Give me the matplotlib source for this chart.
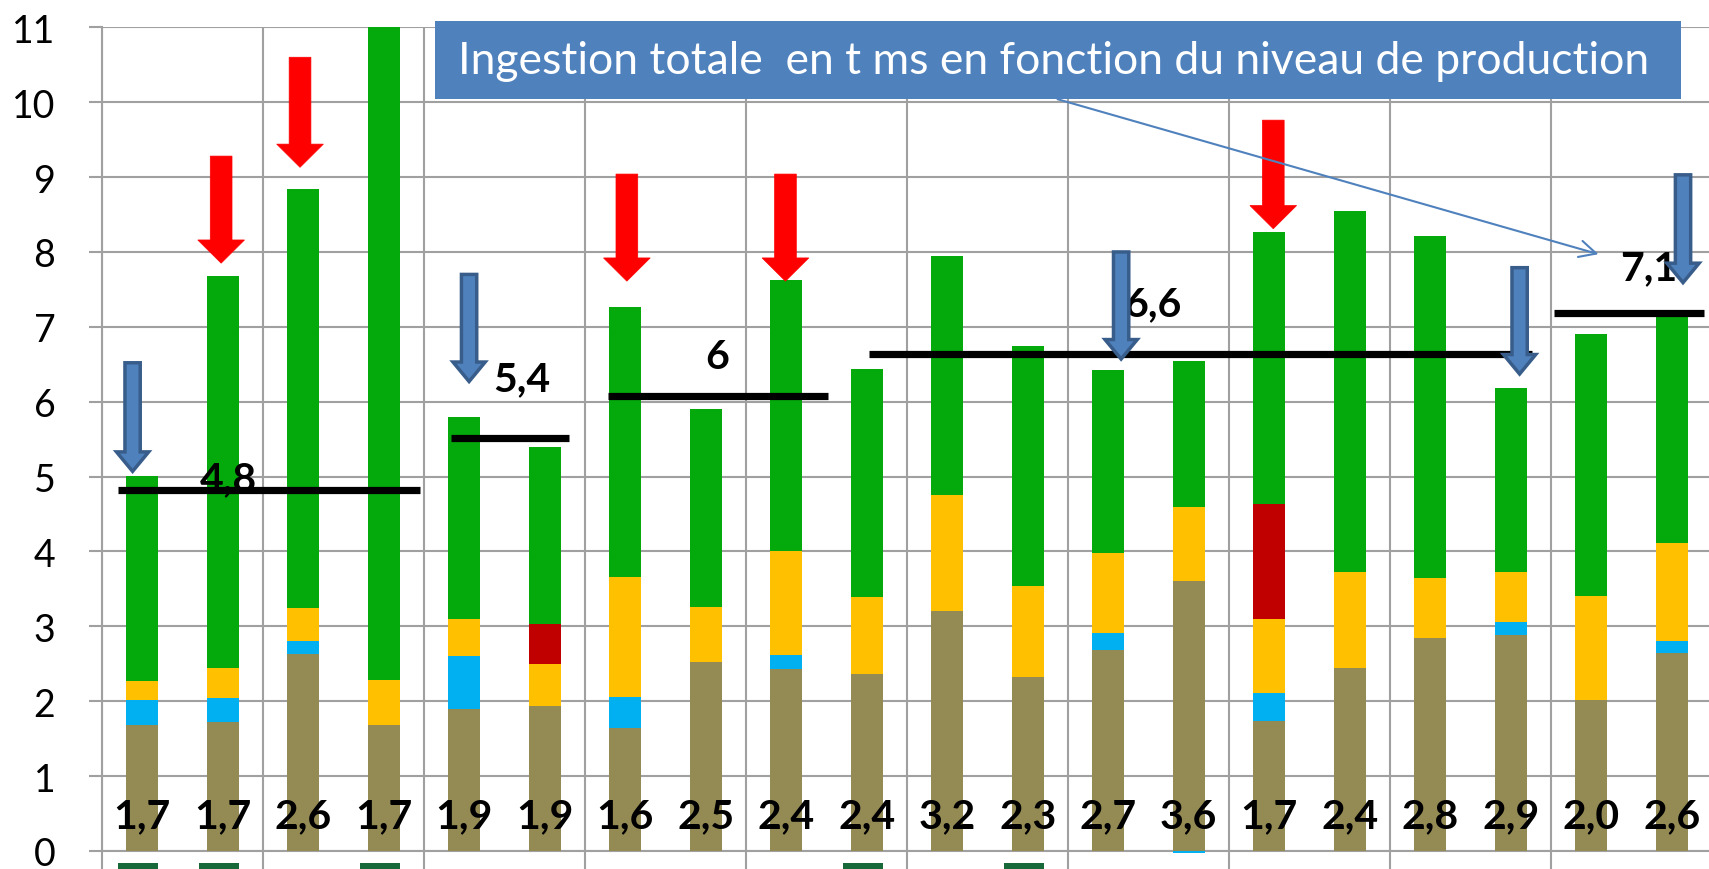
import numpy as np
import matplotlib
matplotlib.use('Agg')
import matplotlib.pyplot as plt
from matplotlib.patches import Polygon, Rectangle

# --- DONNÉES ---
BAR_LABELS = ["1,7", "1,7", "2,6", "1,7", "1,9", "1,9", "1,6", "2,5", "2,4", "2,4",
              "3,2", "2,3", "2,7", "3,6", "1,7", "2,4", "2,8", "2,9", "2,0", "2,6"]
brown = [1.68, 1.72, 2.63, 1.68, 1.89, 1.94, 1.64, 2.52, 2.43, 2.37,
         3.21, 2.32, 2.68, 3.61, 1.74, 2.44, 2.84, 2.88, 2.01, 2.64]
cyan = [0.33, 0.32, 0.17, 0, 0.71, 0, 0.41, 0, 0.19, 0,
        0, 0, 0.23, 0, 0.37, 0, 0, 0.18, 0, 0.17]
yellow = [0.26, 0.41, 0.44, 0.60, 0.50, 0.56, 1.61, 0.74, 1.39, 1.02,
          1.55, 1.22, 1.07, 0.98, 0.99, 1.29, 0.80, 0.67, 1.40, 1.30]
red = [0, 0, 0, 0, 0, 0.53, 0, 0, 0, 0,
       0, 0, 0, 0, 1.53, 0, 0, 0, 0, 0]
green = [2.74, 5.23, 5.60, 9.30, 2.70, 2.37, 3.60, 2.64, 3.61, 3.05,
         3.19, 3.21, 2.44, 1.95, 3.63, 4.82, 4.57, 2.45, 3.50, 3.02]

# petits rectangles vert foncé sous l'axe
marker_idx = [0, 1, 3, 9, 11]

# moyennes par groupe (traits noirs)
mean_values = [4.82, 5.51, 6.08, 6.64, 7.19]
mean_start = [-0.30, 3.83, 5.78, 9.03, 17.54]
mean_end = [3.45, 5.30, 8.52, 17.26, 19.40]
mean_labels = ["4,8", "5,4", "6", "6,6", "7,1"]
mean_label_x = [1.07, 4.71, 7.14, 12.55, 18.71]
mean_label_y = [4.82, 6.16, 6.45, 7.16, 7.64]

# flèches rouges : x, haut, pointe
red_x = [0.98, 1.96, 6.02, 7.99, 14.05]
red_top = [9.28, 10.60, 9.04, 9.04, 9.76]
red_tip = [7.85, 9.13, 7.61, 7.61, 8.31]

# flèches bleues
blue_x = [-0.12, 4.06, 12.16, 17.11, 19.14]
blue_top = [6.52, 7.70, 8.00, 7.79, 9.03]
blue_tip = [5.07, 6.27, 6.57, 6.37, 7.59]

TITLE = "Ingestion totale  en t ms en fonction du niveau de production"

# --- STYLE ---
C_BROWN = '#948A54'
C_CYAN = '#00B0F0'
C_YELLOW = '#FFC000'
C_RED = '#C00000'
C_GREEN = '#04A90C'
C_GRID = '#A0A0A0'
C_BLUE = '#4F81BD'
C_BLUE_DARK = '#385D8A'
BAR_WIDTH = 0.40
FONT = 'Lato'


def down_arrow(ax, x, top, tip, shaft_w, head_w, head_len, fc, ec, lw):
    neck = tip + head_len
    pts = [(x - shaft_w / 2, top), (x + shaft_w / 2, top), (x + shaft_w / 2, neck),
           (x + head_w / 2, neck), (x, tip), (x - head_w / 2, neck),
           (x - shaft_w / 2, neck)]
    ax.add_patch(Polygon(pts, closed=True, facecolor=fc, edgecolor=ec, lw=lw,
                         joinstyle='miter', zorder=8, clip_on=False))


fig = plt.figure(figsize=(17.09, 8.70), dpi=100)
ax = fig.add_axes([102 / 1709, 18 / 870, 1610 / 1709, 823.7 / 870])

x = np.arange(len(brown))
bottom = np.zeros(len(brown))
for vals, col in [(brown, C_BROWN), (cyan, C_CYAN), (yellow, C_YELLOW),
                  (red, C_RED), (green, C_GREEN)]:
    ax.bar(x, vals, bottom=bottom, width=BAR_WIDTH, color=col, zorder=3)
    bottom += np.array(vals)

# trait cyan sous la barre 14
ax.bar(13, 0.03, bottom=-0.03, width=BAR_WIDTH, color=C_CYAN, zorder=3, clip_on=False)

for i in marker_idx:
    ax.bar(i - 0.05, 0.16, bottom=-0.32, width=0.5, color='#17693A',
           zorder=3, clip_on=False)

for xi, lab in zip(x, BAR_LABELS):
    ax.text(xi, 0.32, lab, ha='center', va='baseline', fontsize=29.5,
            fontweight='bold', family=FONT, color='black', zorder=7)

for lab, lx, ly in zip(mean_labels, mean_label_x, mean_label_y):
    ax.text(lx, ly, lab, ha='center', va='baseline', fontsize=29.5,
            fontweight='bold', family=FONT, color='black', zorder=5)

for v, s, e in zip(mean_values, mean_start, mean_end):
    ax.plot([s, e], [v, v], color='black', lw=5.2, solid_capstyle='butt',
            zorder=6, clip_on=False)

for xr, t, p in zip(red_x, red_top, red_tip):
    down_arrow(ax, xr, t, p, 0.27, 0.58, 0.31, '#FF0000', '#FF0000', 0.5)

for xb, t, p in zip(blue_x, blue_top, blue_tip):
    down_arrow(ax, xb, t, p, 0.19, 0.40, 0.26, C_BLUE, C_BLUE_DARK, 2.5)

# cadre du titre
ax.add_patch(Rectangle((3.64, 10.04), 19.11 - 3.64, 11.08 - 10.04,
                       facecolor=C_BLUE, edgecolor='none', zorder=9, clip_on=False))
ax.text((3.64 + 19.11) / 2 - 0.05, 10.56, TITLE, ha='center', va='center',
        fontsize=32, family=FONT, color='white', zorder=10)
ax.annotate('', xy=(18.09, 7.97), xytext=(11.37, 10.04),
            arrowprops=dict(arrowstyle='->', color=C_BLUE, lw=1.5,
                            mutation_scale=30, shrinkA=0, shrinkB=0),
            zorder=8, annotation_clip=False)

ax.set_xlim(-0.5, 19.5)
ax.set_ylim(0, 11)
ax.set_yticks(range(12))
ax.set_yticklabels([str(v) for v in range(12)], fontsize=27, family=FONT)
ax.set_xticks(np.arange(-0.5, 20, 2))
ax.set_xticklabels([])
ax.tick_params(axis='y', length=9.5, width=1.5, color=C_GRID, pad=24)
ax.tick_params(axis='x', length=14, width=1.5, color=C_GRID)
ax.grid(True, color=C_GRID, lw=1.5, zorder=0)
ax.set_axisbelow(True)
for side in ['top', 'right']:
    ax.spines[side].set_visible(False)
for side in ['left', 'bottom']:
    ax.spines[side].set_color(C_GRID)
    ax.spines[side].set_linewidth(1.5)

fig.savefig('out.png', dpi=100)
